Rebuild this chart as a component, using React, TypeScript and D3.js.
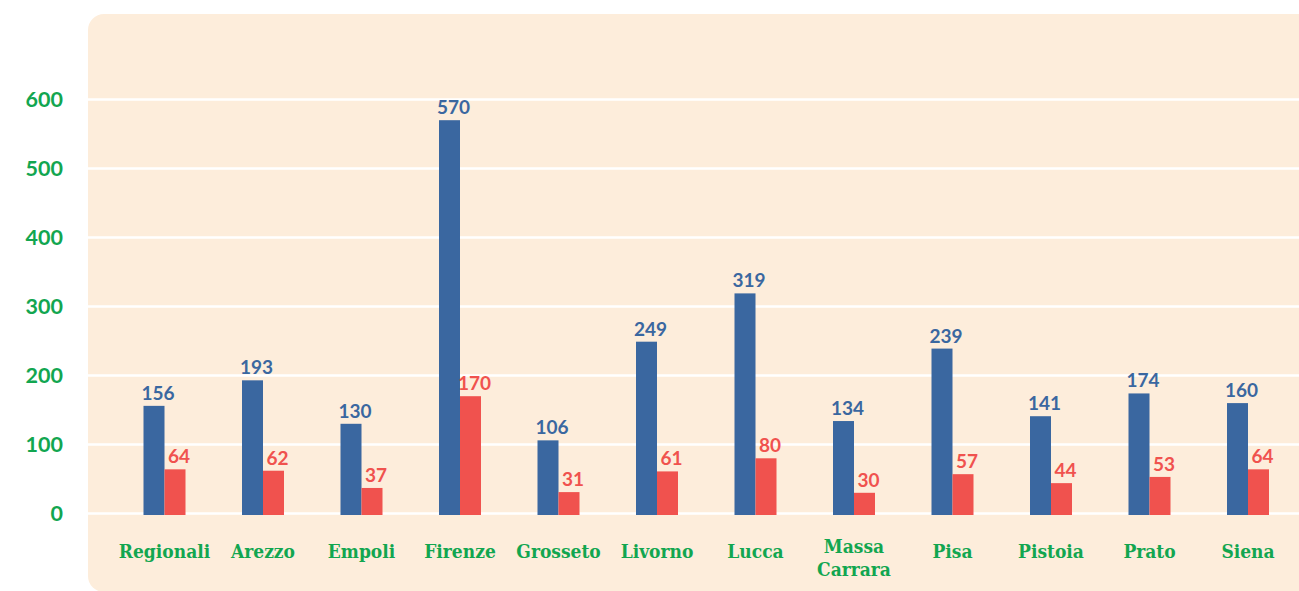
import React from "react";
import * as d3 from "d3";

const categories = ["Regionali", "Arezzo", "Empoli", "Firenze", "Grosseto", "Livorno", "Lucca", "Massa\nCarrara", "Pisa", "Pistoia", "Prato", "Siena"];
const blueValues = [156, 193, 130, 570, 106, 249, 319, 134, 239, 141, 174, 160];
const redValues = [64, 62, 37, 170, 31, 61, 80, 30, 57, 44, 53, 64];
const yTicks = [0, 100, 200, 300, 400, 500, 600];

const W = 1299;
const H = 591;
const BLUE = "#3a67a0";
const RED = "#f0524e";
const GREEN = "#12a650";
const PANEL = "#fdeddb";

export default function App() {
  const y = d3.scaleLinear().domain([0, 600]).range([513.5, 99.5]);
  const x = d3.scaleBand<string>().domain(categories).range([115.25, 1297.25]).paddingInner(0).paddingOuter(0);
  const sub = d3.scaleBand<string>().domain(["blue", "red"]).range([-21, 21]);
  const base = y(0) + 1.5;
  const series = [
    { key: "blue", values: blueValues, color: BLUE },
    { key: "red", values: redValues, color: RED },
  ];
  return (
    <svg width={W} height={H} style={{ position: "absolute", left: 0, top: 0 }}>
      <rect x={88} y={14} width={1260} height={578} rx={16} ry={16} fill={PANEL} />
      {yTicks.map((t) => (
        <g key={t}>
          <line x1={88} x2={W} y1={y(t)} y2={y(t)} stroke="#ffffff" strokeWidth={2.5} />
          <text x={63} y={y(t)} dy="0.36em" textAnchor="end" fill={GREEN} fontFamily="Lato" fontWeight={700} fontSize={21.5}>
            {t}
          </text>
        </g>
      ))}
      {categories.map((c, i) => {
        const cx = (x(c) as number) + x.bandwidth() / 2;
        const lines = c.split("\n");
        const y0 = lines.length > 1 ? 553 : 558;
        return (
          <g key={c}>
            {series.map((s) => {
              const bx = cx + (sub(s.key) as number);
              const v = s.values[i];
              return (
                <g key={s.key}>
                  <rect x={bx} y={y(v)} width={sub.bandwidth()} height={base - y(v)} fill={s.color} />
                  <text x={bx + sub.bandwidth() / 2 + 4} y={y(v) - 6} textAnchor="middle" fill={s.color} fontFamily="Lato" fontWeight={700} fontSize={19}>
                    {v}
                  </text>
                </g>
              );
            })}
            {lines.map((l, k) => (
              <text key={k} x={cx} y={y0 + k * 22.5} textAnchor="middle" fill={GREEN} fontFamily="'DejaVu Serif Condensed', 'DejaVu Serif'" fontWeight={700} fontSize={19}>
                {l}
              </text>
            ))}
          </g>
        );
      })}
    </svg>
  );
}
